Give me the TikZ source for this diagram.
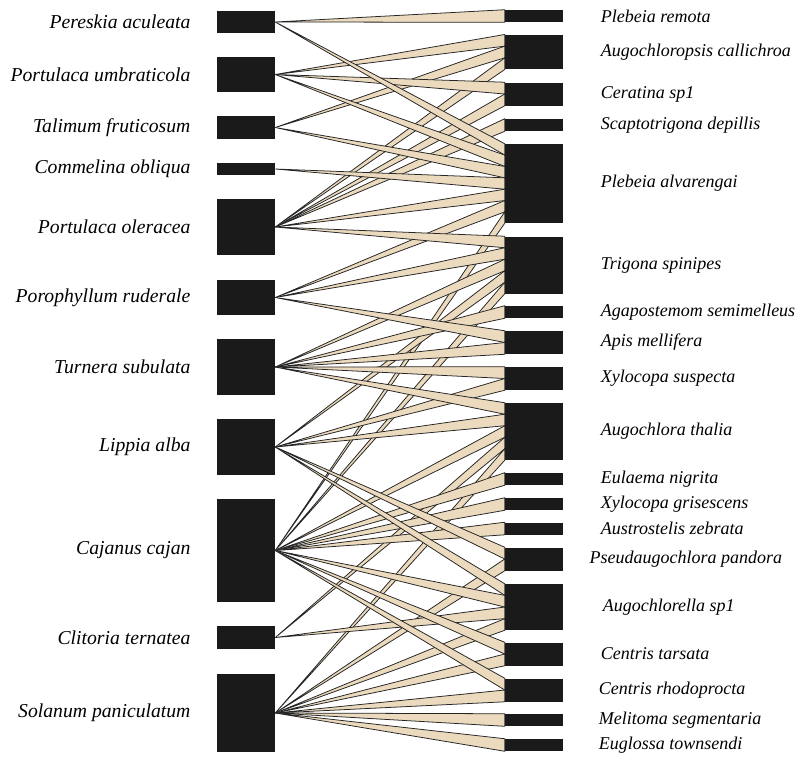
\documentclass[tikz,border=0pt]{standalone}
\usepackage{fontspec}
\setmainfont{Liberation Serif}
\usetikzlibrary{positioning, calc}

\definecolor{linkfill}{RGB}{235,218,189}
\definecolor{boxfill}{RGB}{26,26,26}
\newcommand{\pxl}{0.025cm}
% wedges from the plant boxes into one bee box, split evenly
\newcommand{\fanin}[3]{%
  \foreach \src [count=\i] in {#3} {
    \pgfmathsetmacro{\ta}{(\i-1)/#2}
    \pgfmathsetmacro{\tb}{\i/#2}
    \draw[link] (\src.east) -- ($(#1.north west)!\ta!(#1.south west)$)
      -- ($(#1.north west)!\tb!(#1.south west)$) -- cycle;
  }%
}

\begin{document}
\begin{tikzpicture}[
        x=\pxl, y=-\pxl,
        lbox/.style={fill=boxfill, inner sep=0pt, minimum width=58*\pxl},
        rbox/.style={fill=boxfill, inner sep=0pt, minimum width=58*\pxl},
        lname/.style={font=\fontsize{14}{16}\selectfont\itshape, inner sep=0pt},
        rname/.style={font=\fontsize{12.8}{15}\selectfont\itshape, inner sep=0pt},
        link/.style={fill=linkfill, draw=black!85, line width=0.55pt}
    ]
        \useasboundingbox (0,0) rectangle (800,758);

        % plants
        \node[lbox, minimum height=22*\pxl] (pa) at (246,22) {};
        \node[lbox, minimum height=35*\pxl] (pu) at (246,74.5) {};
        \node[lbox, minimum height=23*\pxl] (tf) at (246,127.5) {};
        \node[lbox, minimum height=12*\pxl] (co) at (246,169) {};
        \node[lbox, minimum height=56*\pxl] (po) at (246,227) {};
        \node[lbox, minimum height=35*\pxl] (pr) at (246,297.5) {};
        \node[lbox, minimum height=56*\pxl] (ts) at (246,367) {};
        \node[lbox, minimum height=56*\pxl] (la) at (246,447) {};
        \node[lbox, minimum height=103*\pxl] (cc) at (246,550.5) {};
        \node[lbox, minimum height=23*\pxl] (ct) at (246,637.5) {};
        \node[lbox, minimum height=78*\pxl] (sp) at (246,713) {};

        \node[lname, left=0.65cm of pa] (pa-t) {Pereskia aculeata};
        \node[lname, left=0.65cm of pu] (pu-t) {Portulaca umbraticola};
        \node[lname, left=0.65cm of tf] (tf-t) {Talimum fruticosum};
        \node[lname, left=0.65cm of co] (co-t) {Commelina obliqua};
        \node[lname, left=0.65cm of po] (po-t) {Portulaca oleracea};
        \node[lname, left=0.65cm of pr] (pr-t) {Porophyllum ruderale};
        \node[lname, left=0.65cm of ts] (ts-t) {Turnera subulata};
        \node[lname, left=0.65cm of la] (la-t) {Lippia alba};
        \node[lname, left=0.65cm of cc] (cc-t) {Cajanus cajan};
        \node[lname, left=0.65cm of ct] (ct-t) {Clitoria ternatea};
        \node[lname, left=0.65cm of sp] (sp-t) {Solanum paniculatum};

        % bees
        \node[rbox, minimum height=12*\pxl] (plr) at (534,16) {};
        \node[rbox, minimum height=34.5*\pxl] (acal) at (534,52) {};
        \node[rbox, minimum height=23*\pxl] (csp) at (534,94) {};
        \node[rbox, minimum height=12*\pxl] (sdep) at (534,125) {};
        \node[rbox, minimum height=79*\pxl] (pal) at (534,183.5) {};
        \node[rbox, minimum height=57*\pxl] (tsp) at (534,265) {};
        \node[rbox, minimum height=12*\pxl] (asem) at (534,312) {};
        \node[rbox, minimum height=23*\pxl] (ame) at (534,342.5) {};
        \node[rbox, minimum height=23*\pxl] (xsu) at (534,378.5) {};
        \node[rbox, minimum height=57*\pxl] (ath) at (534,431.5) {};
        \node[rbox, minimum height=12*\pxl] (eni) at (534,479) {};
        \node[rbox, minimum height=12*\pxl] (xgr) at (534,504) {};
        \node[rbox, minimum height=12*\pxl] (aze) at (534,528.5) {};
        \node[rbox, minimum height=23*\pxl] (ppa) at (534,559) {};
        \node[rbox, minimum height=46*\pxl] (asp) at (534,607) {};
        \node[rbox, minimum height=23*\pxl] (cta) at (534,654) {};
        \node[rbox, minimum height=23*\pxl] (crh) at (534,690) {};
        \node[rbox, minimum height=12*\pxl] (mse) at (534,720) {};
        \node[rbox, minimum height=12*\pxl] (eto) at (534,745) {};

        \node[rname, right=0.93cm of plr] (plr-t) {Plebeia remota};
        \node[rname, right=0.93cm of acal] (acal-t) {Augochloropsis callichroa};
        \node[rname, right=0.93cm of csp] (csp-t) {Ceratina sp1};
        \node[rname, right=0.93cm of sdep] (sdep-t) {Scaptotrigona depillis};
        \node[rname, right=0.93cm of pal] (pal-t) {Plebeia alvarengai};
        \node[rname, right=0.93cm of tsp] (tsp-t) {Trigona spinipes};
        \node[rname, right=0.93cm of asem] (asem-t) {Agapostemom semimelleus};
        \node[rname, right=0.93cm of ame] (ame-t) {Apis mellifera};
        \node[rname, right=0.93cm of xsu] (xsu-t) {Xylocopa suspecta};
        \node[rname, right=0.93cm of ath] (ath-t) {Augochlora thalia};
        \node[rname, right=0.93cm of eni] (eni-t) {Eulaema nigrita};
        \node[rname, right=0.93cm of xgr] (xgr-t) {Xylocopa grisescens};
        \node[rname, right=0.93cm of aze] (aze-t) {Austrostelis zebrata};
        \node[rname, right=0.65cm of ppa] (ppa-t) {Pseudaugochlora pandora};
        \node[rname, right=0.98cm of asp] (asp-t) {Augochlorella sp1};
        \node[rname, right=0.93cm of cta] (cta-t) {Centris tarsata};
        \node[rname, right=0.88cm of crh] (crh-t) {Centris rhodoprocta};
        \node[rname, right=0.88cm of mse] (mse-t) {Melitoma segmentaria};
        \node[rname, right=0.88cm of eto] (eto-t) {Euglossa townsendi};

        % interactions
        \fanin{plr}{1}{pa}
        \fanin{acal}{3}{pu,tf,po}
        \fanin{csp}{2}{pu,po}
        \fanin{sdep}{1}{po}
        \fanin{pal}{7}{pa,pu,tf,co,po,pr,cc}
        \fanin{tsp}{5}{po,pr,ts,la,cc}
        \fanin{asem}{1}{ts}
        \fanin{ame}{2}{pr,ts}
        \fanin{xsu}{2}{ts,la}
        \fanin{ath}{5}{ts,la,cc,ct,sp}
        \fanin{eni}{1}{cc}
        \fanin{xgr}{1}{cc}
        \fanin{aze}{1}{cc}
        \fanin{ppa}{2}{la,sp}
        \fanin{asp}{4}{la,cc,ct,sp}
        \fanin{cta}{2}{cc,sp}
        \fanin{crh}{2}{cc,sp}
        \fanin{mse}{1}{sp}
        \fanin{eto}{1}{sp}
    \end{tikzpicture}
\end{document}
